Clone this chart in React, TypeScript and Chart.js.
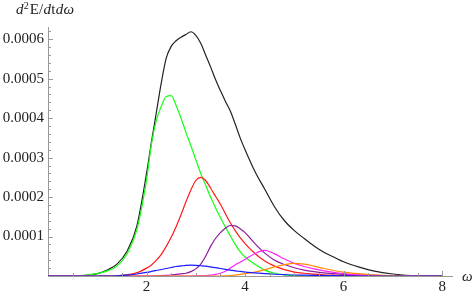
import React, { useEffect, useRef } from "react";
import { Chart, registerables } from "chart.js";

Chart.register(...registerables);

// ω grid shared by all series
const omega = [0, 0.5, 1.0, 1.2, 1.4, 1.6, 1.8, 2.0, 2.1, 2.2, 2.3, 2.4, 2.5, 2.6, 2.7, 2.8, 2.9, 3.0, 3.1, 3.2, 3.3, 3.4, 3.5, 3.6, 3.7, 3.8, 3.9, 4.0, 4.2, 4.4, 4.6, 4.8, 5.0, 5.2, 5.4, 5.6, 5.8, 6.0, 6.3, 6.6, 7.0, 7.5, 8.0];

// values in units of 1e-4
const totalSeries = [0, 0, 0.06, 0.15, 0.3, 0.62, 1.25, 2.6, 3.4, 4.15, 4.9, 5.52, 5.82, 5.96, 6.05, 6.12, 6.19, 6.1, 5.9, 5.6, 5.3, 4.98, 4.7, 4.43, 4.18, 3.85, 3.5, 3.2, 2.65, 2.2, 1.75, 1.4, 1.15, 0.95, 0.76, 0.6, 0.48, 0.36, 0.23, 0.13, 0.05, 0.005, 0];
const greenSeries = [0, 0, 0.06, 0.13, 0.25, 0.55, 1.16, 2.43, 3.35, 3.95, 4.3, 4.55, 4.57, 4.32, 4.0, 3.64, 3.3, 2.95, 2.6, 2.3, 2.0, 1.73, 1.48, 1.24, 1.02, 0.8, 0.62, 0.48, 0.3, 0.15, 0.07, 0.03, 0.01, 0, 0, 0, 0, 0, 0, 0, 0, 0, 0];
const redSeries = [0, 0, 0, 0, 0.01, 0.03, 0.08, 0.2, 0.28, 0.4, 0.55, 0.75, 0.98, 1.25, 1.55, 1.88, 2.18, 2.42, 2.5, 2.42, 2.23, 2.02, 1.82, 1.58, 1.35, 1.15, 0.97, 0.82, 0.57, 0.38, 0.25, 0.16, 0.1, 0.07, 0.05, 0.03, 0.02, 0.01, 0, 0, 0, 0, 0];
const blueSeries = [0, 0, 0, 0, 0.005, 0.02, 0.05, 0.09, 0.115, 0.14, 0.165, 0.19, 0.215, 0.24, 0.255, 0.27, 0.275, 0.27, 0.26, 0.25, 0.23, 0.21, 0.19, 0.17, 0.15, 0.13, 0.115, 0.1, 0.08, 0.06, 0.045, 0.035, 0.025, 0.02, 0.015, 0.01, 0.008, 0.005, 0, 0, 0, 0, 0];
const purpleSeries = [0, 0, 0, 0, 0, 0, 0, 0, 0, 0.005, 0.01, 0.015, 0.025, 0.04, 0.055, 0.07, 0.11, 0.18, 0.3, 0.5, 0.75, 0.95, 1.1, 1.21, 1.28, 1.27, 1.2, 1.1, 0.82, 0.58, 0.4, 0.29, 0.21, 0.15, 0.11, 0.08, 0.06, 0.04, 0.025, 0.015, 0.005, 0, 0];
const magentaSeries = [0, 0, 0, 0, 0, 0, 0, 0, 0, 0, 0, 0, 0, 0, 0, 0, 0, 0.005, 0.008, 0.01, 0.02, 0.04, 0.07, 0.12, 0.2, 0.28, 0.35, 0.42, 0.57, 0.65, 0.56, 0.43, 0.32, 0.24, 0.18, 0.13, 0.09, 0.06, 0.03, 0.015, 0.005, 0, 0];
const orangeSeries = [0, 0, 0, 0, 0, 0, 0, 0, 0, 0, 0, 0, 0, 0, 0, 0, 0, 0, 0, 0, 0, 0, 0, 0.005, 0.01, 0.02, 0.04, 0.06, 0.1, 0.16, 0.23, 0.29, 0.32, 0.3, 0.25, 0.19, 0.14, 0.1, 0.06, 0.03, 0.01, 0, 0];

const xTickValues = [2, 4, 6, 8];
const xTickLabels = ["2", "4", "6", "8"];
const yTickValues = [0.0001, 0.0002, 0.0003, 0.0004, 0.0005, 0.0006];
const yTickLabels = ["0.0001", "0.0002", "0.0003", "0.0004", "0.0005", "0.0006"];

const SERIF = "Liberation Serif, serif";
const AXIS_COLOR = "#9a9a9a";

const toPoints = (vals: number[]) => vals.map((v, i) => ({ x: omega[i], y: v * 1e-4 }));

const decorPlugin = {
  id: "decor",
  afterDraw(chart: any) {
    const { ctx, chartArea, scales } = chart;
    const x = scales.x;
    const y = scales.y;
    ctx.save();
    ctx.strokeStyle = AXIS_COLOR;
    ctx.lineWidth = 1;
    ctx.beginPath();
    // x ticks (inward)
    for (let k = 1; k * 0.5 <= 8.0001; k++) {
      const v = k * 0.5;
      const px = Math.round(x.getPixelForValue(v)) + 0.5;
      const len = xTickValues.includes(v) ? 5 : 3;
      ctx.moveTo(px, chartArea.bottom);
      ctx.lineTo(px, chartArea.bottom - len);
    }
    // y ticks (inward)
    for (let k = 1; k * 0.00002 <= 0.000621; k++) {
      const v = k * 0.00002;
      const py = Math.round(y.getPixelForValue(v)) + 0.5;
      const len = k % 5 === 0 ? 5 : 3;
      ctx.moveTo(chartArea.left, py);
      ctx.lineTo(chartArea.left + len, py);
    }
    ctx.stroke();

    // title: d²E/dt dω
    ctx.fillStyle = "#222";
    ctx.textBaseline = "alphabetic";
    const parts: [string, string, number][] = [
      ["d", "italic 15px " + SERIF, 0],
      ["2", "10px " + SERIF, -5],
      ["E/", "15px " + SERIF, 0],
      ["d", "italic 15px " + SERIF, 0],
      ["t", "15px " + SERIF, 0],
      ["d", "italic 15px " + SERIF, 0],
      ["ω", "italic 15px " + SERIF, 0],
    ];
    let cx = 16;
    const base = 14;
    for (const [t, f, dy] of parts) {
      ctx.font = f;
      ctx.fillText(t, cx, base + dy);
      cx += ctx.measureText(t).width + (t === "2" ? 1 : 0.3);
    }
    // axis label ω
    ctx.font = "italic 15px " + SERIF;
    ctx.textBaseline = "middle";
    ctx.fillText("ω", 462, chartArea.bottom + 1);
    ctx.restore();
  },
};

export default function App() {
  const ref = useRef<HTMLCanvasElement | null>(null);
  useEffect(() => {
    document.body.style.margin = "0";
    const canvas = ref.current!;
    const mk = (label: string, vals: number[], color: string) => ({
      label,
      data: toPoints(vals),
      borderColor: color,
      backgroundColor: color,
      borderWidth: 1.2,
      pointRadius: 0,
      cubicInterpolationMode: "monotone" as const,
      fill: false,
    });
    const chart = new Chart(canvas, {
      type: "line",
      data: {
        datasets: [
          mk("blue", blueSeries, "#1a1aff"),
          mk("orange", orangeSeries, "#ff8a00"),
          mk("magenta", magentaSeries, "#ff22ff"),
          mk("purple", purpleSeries, "#8e1c9e"),
          mk("red", redSeries, "#ff1a1a"),
          mk("green", greenSeries, "#14ff14"),
          mk("total", totalSeries, "#222222"),
        ],
      },
      options: {
        responsive: false,
        animation: false,
        devicePixelRatio: 1,
        layout: { padding: { top: 27, right: 21, left: 0, bottom: 0 } },
        plugins: { legend: { display: false }, tooltip: { enabled: false }, title: { display: false } },
        scales: {
          x: {
            type: "linear",
            min: 0,
            max: 8.2,
            grid: { drawOnChartArea: false, drawTicks: false },
            border: { color: AXIS_COLOR, width: 1 },
            afterBuildTicks: (s: any) => {
              s.ticks = xTickValues.map((v) => ({ value: v }));
            },
            afterFit: (s: any) => {
              s.height = 20;
            },
            ticks: {
              padding: 2,
              maxRotation: 0,
              autoSkip: false,
              color: "#222",
              font: { family: SERIF, size: 15 },
              callback: (v: any) => xTickLabels[xTickValues.indexOf(Number(v))] ?? "",
            },
          },
          y: {
            type: "linear",
            min: 0,
            max: 0.000631,
            grid: { drawOnChartArea: false, drawTicks: false },
            border: { color: AXIS_COLOR, width: 1 },
            afterBuildTicks: (s: any) => {
              s.ticks = yTickValues.map((v) => ({ value: v }));
            },
            afterFit: (s: any) => {
              s.width = 48;
            },
            ticks: {
              padding: 4,
              autoSkip: false,
              color: "#222",
              font: { family: SERIF, size: 15 },
              callback: (v: any) => {
                const i = yTickValues.findIndex((t) => Math.abs(t - Number(v)) < 1e-9);
                return i >= 0 ? yTickLabels[i] : "";
              },
            },
          },
        },
      },
      plugins: [decorPlugin],
    });
    return () => chart.destroy();
  }, []);
  return <canvas ref={ref} width={473} height={296} style={{ display: "block", width: 473, height: 296 }} />;
}
